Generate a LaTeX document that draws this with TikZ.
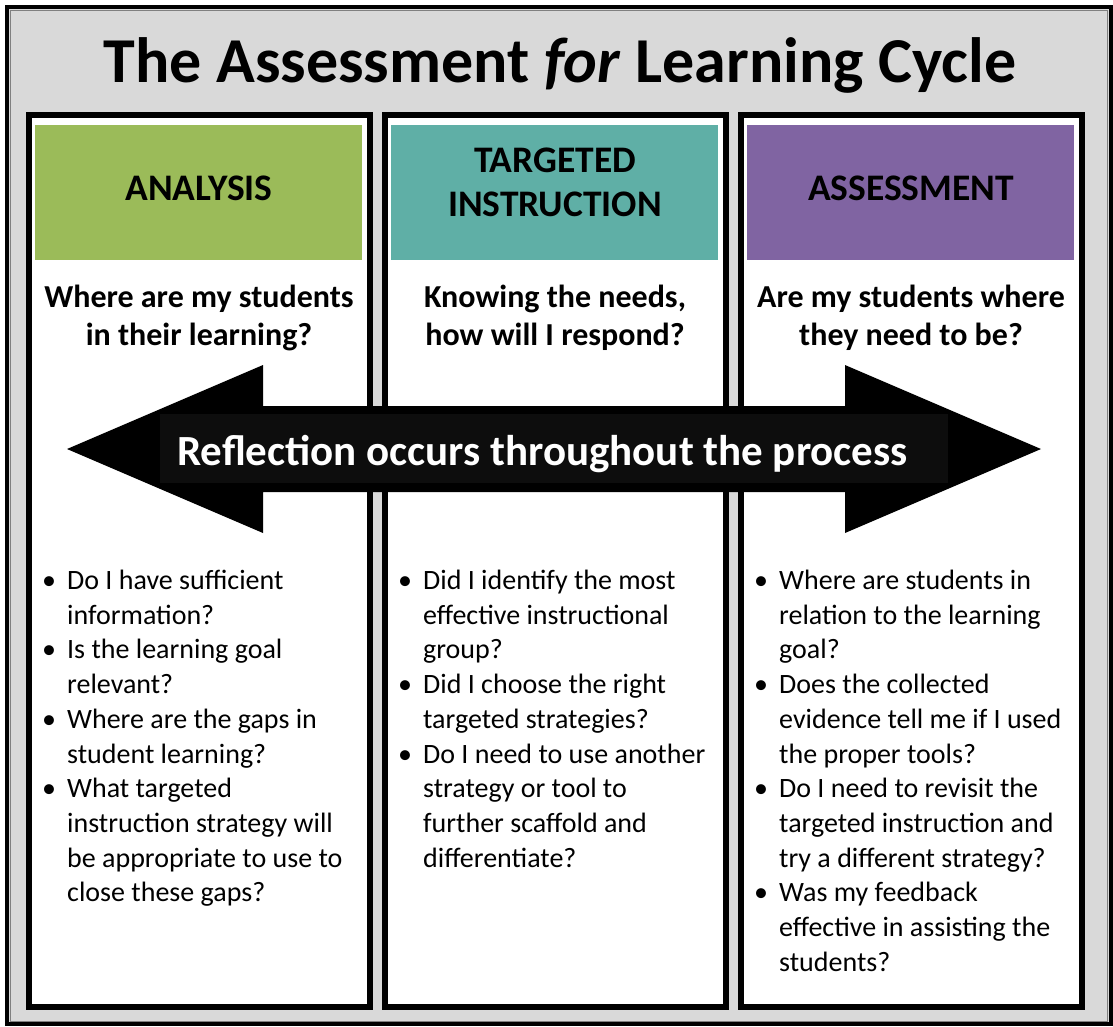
\documentclass[tikz,border=0pt]{standalone}
\usepackage{fontspec}
\setmainfont{Carlito}
\usepackage{tikz}

\definecolor{bggray}{HTML}{D9D9D9}
\definecolor{anagreen}{HTML}{9BBB59}
\definecolor{tarteal}{HTML}{5FAFA6}
\definecolor{asspurple}{HTML}{8064A2}

\tikzset{
  colframe/.style={line width=6pt, draw=black, fill=white},
  headtext/.style={font=\fontsize{37.5}{44}\selectfont\bfseries, align=center, inner sep=0pt},
  asktext/.style={font=\fontsize{32}{38}\selectfont\bfseries, align=center, inner sep=0pt},
  bultext/.style={font=\fontsize{28}{34.7}\selectfont, inner sep=0pt, anchor=north west}
}
\newcommand{\bu}{\textbullet}

\begin{document}
\begin{tikzpicture}[x=1pt,y=-1pt]
\useasboundingbox (0,0) rectangle (1113,1026);
\draw[line width=4pt, fill=bggray] (7,7) rectangle (1110.5,1024);
\draw[gray, line width=1pt] (10,10) rectangle (1107.5,1021);
\node[font=\fontsize{64}{76}\selectfont\bfseries, anchor=base, inner sep=0pt] (title) at (560,82)
  {The Assessment \textit{for} Learning Cycle};
\foreach \x/\col in {29/anagreen, 385/tarteal, 741/asspurple}{
  \draw[colframe] (\x,115) rectangle ++(341,892);
  \fill[\col] (\x+6,125) rectangle ++(327,135);
}
% headings
\node[headtext, anchor=base] (ana) at (199,200) {ANALYSIS};
\node[headtext, anchor=base] (tar) at (555,216) {TARGETED\\INSTRUCTION};
\node[headtext, anchor=base] (ass) at (911,200) {ASSESSMENT};
% questions
\node[asktext, anchor=base] (anaq) at (199,345) {Where are my students\\in their learning?};
\node[asktext, anchor=base] (tarq) at (555,345) {Knowing the needs,\\how will I respond?};
\node[asktext, anchor=base] (assq) at (911,345) {Are my students where\\they need to be?};
% arrow
\fill (67,449) -- (263,365) -- (263,406) -- (845,406) -- (845,365) -- (1041,449)
  -- (845,533) -- (845,492) -- (263,492) -- (263,533) -- cycle;
\node[fill=black!95, minimum width=788pt, minimum height=69pt, inner sep=0pt] (reflbox) at (554,448.5) {};
\node[text=white, font=\fontsize{43}{50}\selectfont\bfseries, anchor=base, inner sep=0pt] (refl) at (542.5,465)
  {Reflection occurs throughout the process};
% bullets
\node[bultext] (anab) at (42,565) {\begin{tabular}{@{}p{25pt}@{}l@{}}
\bu & Do I have sufficient\\ & information?\\
\bu & Is the learning goal\\ & relevant?\\
\bu & Where are the gaps in\\ & student learning?\\
\bu & What targeted\\ & instruction strategy will\\ & be appropriate to use to\\ & close these gaps?
\end{tabular}};
\node[bultext] (tarb) at (398,565) {\begin{tabular}{@{}p{25pt}@{}l@{}}
\bu & Did I identify the most\\ & effective instructional\\ & group?\\
\bu & Did I choose the right\\ & targeted strategies?\\
\bu & Do I need to use another\\ & strategy or tool to\\ & further scaffold and\\ & differentiate?
\end{tabular}};
\node[bultext] (assb) at (754,565) {\begin{tabular}{@{}p{25pt}@{}l@{}}
\bu & Where are students in\\ & relation to the learning\\ & goal?\\
\bu & Does the collected\\ & evidence tell me if I used\\ & the proper tools?\\
\bu & Do I need to revisit the\\ & targeted instruction and\\ & try a different strategy?\\
\bu & Was my feedback\\ & effective in assisting the\\ & students?
\end{tabular}};
\end{tikzpicture}
\end{document}
